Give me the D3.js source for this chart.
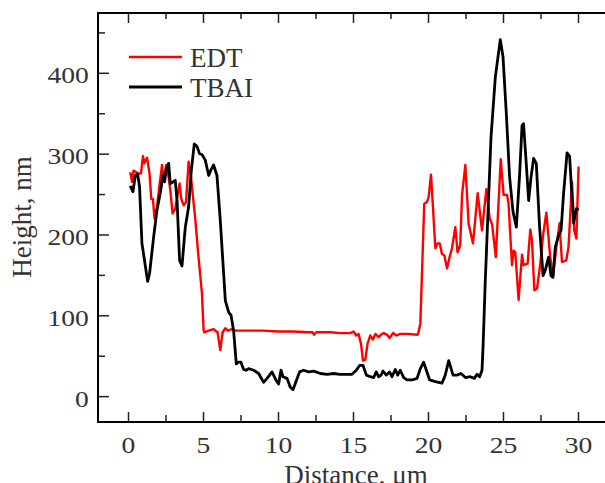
<!DOCTYPE html>
<html>
<head>
<meta charset="utf-8">
<script src="https://cdn.jsdelivr.net/npm/d3@7"></script>
<style>
  body { margin: 0; background: #fff; }
  svg { display: block; }
</style>
</head>
<body>
<svg class="chart"></svg>
<script>
// profile data
const edtDistance = [0.15, 0.27, 0.37, 0.55, 0.71, 0.87, 1.0, 1.09, 1.27, 1.44, 1.55, 1.66, 1.77, 1.93, 2.1, 2.27, 2.37, 2.55, 2.71, 2.82, 2.97, 3.15, 3.31, 3.44, 3.55, 3.71, 3.87, 4.04, 4.2, 4.49, 4.71, 4.93, 5.04, 5.09, 5.38, 5.71, 5.82, 5.97, 6.15, 6.31, 6.49, 6.67, 6.93, 7.15, 8.0, 9.0, 10.0, 11.0, 12.0, 12.3, 12.4, 12.55, 13.5, 14.15, 14.82, 15.04, 15.22, 15.37, 15.53, 15.67, 15.82, 15.97, 16.15, 16.33, 16.49, 16.71, 16.87, 17.04, 17.27, 17.44, 17.67, 17.89, 18.15, 18.6, 19.31, 19.38, 19.49, 19.75, 19.93, 20.04, 20.2, 20.33, 20.49, 20.64, 20.78, 20.93, 21.09, 21.27, 21.44, 21.6, 21.82, 21.97, 22.15, 22.27, 22.49, 22.71, 23.0, 23.31, 23.6, 23.89, 24.11, 24.27, 24.52, 24.85, 25.04, 25.27, 25.37, 25.6, 25.71, 25.82, 26.04, 26.27, 26.37, 26.64, 26.82, 26.93, 27.09, 27.27, 27.49, 27.67, 27.89, 28.15, 28.33, 28.55, 28.77, 28.93, 29.22, 29.37, 29.6, 29.75, 29.89, 30.04];
const edtHeight = [277, 265, 279, 277, 275, 276, 297, 288, 295, 275, 244, 244, 220, 234, 261, 286, 267, 286, 271, 255, 226, 232, 249, 263, 244, 236, 240, 290, 271, 218, 170, 127, 82, 79, 81, 83, 81, 79, 57, 79, 84, 81, 83, 81, 81, 81, 80, 80, 79, 79, 76, 79, 79, 78, 78, 80, 75, 77, 65, 44, 45, 65, 75, 70, 77, 73, 76, 78, 76, 72, 78, 75, 77, 77, 76, 80, 90, 238, 240, 246, 274, 234, 183, 189, 189, 176, 174, 158, 172, 183, 209, 178, 187, 249, 286, 213, 189, 251, 205, 256, 220, 213, 172, 293, 249, 249, 238, 162, 180, 178, 119, 175, 162, 164, 206, 193, 131, 133, 164, 199, 227, 172, 148, 183, 214, 166, 168, 185, 265, 205, 195, 284];

const tbaiDistance = [0.15, 0.33, 0.49, 0.64, 0.77, 0.93, 1.31, 1.44, 1.71, 1.93, 2.15, 2.33, 2.44, 2.55, 2.71, 2.82, 3.0, 3.15, 3.27, 3.44, 3.6, 3.82, 4.04, 4.22, 4.42, 4.6, 4.77, 4.93, 5.15, 5.38, 5.53, 5.71, 5.93, 6.15, 6.49, 6.71, 6.87, 7.04, 7.22, 7.37, 7.53, 7.71, 7.87, 8.04, 8.38, 8.71, 9.04, 9.27, 9.6, 9.89, 10.04, 10.2, 10.33, 10.6, 10.82, 11.0, 11.22, 11.44, 11.71, 12.04, 12.38, 12.82, 13.27, 13.71, 14.11, 14.49, 14.93, 15.22, 15.44, 15.67, 15.89, 16.15, 16.38, 16.55, 16.71, 16.87, 17.0, 17.22, 17.44, 17.6, 17.82, 17.98, 18.15, 18.38, 18.6, 18.93, 19.27, 19.49, 19.71, 19.89, 20.11, 20.49, 20.93, 21.15, 21.38, 21.67, 21.93, 22.2, 22.49, 22.82, 23.09, 23.27, 23.44, 23.6, 23.67, 23.82, 24.04, 24.2, 24.49, 24.82, 25.0, 25.22, 25.44, 25.67, 25.89, 26.11, 26.27, 26.37, 26.55, 26.71, 26.87, 27.04, 27.22, 27.44, 27.67, 27.82, 28.04, 28.2, 28.33, 28.49, 28.71, 28.87, 29.04, 29.27, 29.44, 29.6, 29.71, 29.89, 30.04];
const tbaiHeight = [260, 253, 273, 275, 259, 189, 142, 152, 197, 230, 251, 273, 265, 280, 288, 263, 265, 267, 242, 168, 161, 209, 234, 279, 312, 309, 300, 299, 292, 273, 280, 286, 273, 218, 118, 104, 100, 81, 40, 42, 42, 33, 32, 34, 32, 28, 17, 22, 30, 19, 15, 32, 24, 22, 11, 8, 19, 30, 32, 30, 31, 28, 27, 28, 27, 27, 27, 32, 38, 38, 26, 24, 23, 30, 24, 26, 31, 26, 30, 24, 33, 26, 32, 23, 20, 20, 22, 34, 42, 32, 20, 18, 16, 26, 44, 26, 26, 28, 23, 24, 22, 27, 24, 32, 61, 143, 246, 320, 395, 441, 420, 350, 271, 228, 209, 275, 335, 337, 288, 242, 271, 294, 288, 209, 149, 156, 172, 149, 147, 185, 199, 205, 251, 301, 297, 246, 214, 232, 230];

const xMajor = [0, 5, 10, 15, 20, 25, 30];
const yMajor = [0, 100, 200, 300, 400];
const seriesNames = ["EDT", "TBAI"];
const seriesColors = ["#ff0000", "#000000"];

const width = 605;
const height = 483;
const plotLeft = 98, plotTop = 13, plotRight = 608, plotBottom = 422;
const fontFamily = "'Liberation Serif', 'Times New Roman', serif";
const textColor = "#333";
const lineWidths = [2.4, 2.8];

const svg = d3.select('.chart')
    .attr('width', width)
    .attr('height', height);

const x = d3.scaleLinear().domain([-2, 32]).range([plotLeft, plotRight]);
const y = d3.scaleLinear().domain([-32, 474]).range([plotBottom, plotTop]);

const xMinor = d3.range(0, 32, 2.5).filter(v => !xMajor.includes(v));
const yMinor = d3.range(0, 474, 50).filter(v => !yMajor.includes(v));

// lines
const line = d3.line()
    .x(d => x(d[0]))
    .y(d => y(d[1]));

const edt = edtDistance.map((d, i) => [d, edtHeight[i]]);
const tbai = tbaiDistance.map((d, i) => [d, tbaiHeight[i]]);

[edt, tbai].forEach((series, i) => {
    svg.append("path")
        .datum(series)
        .attr("d", line)
        .attr("fill", "none")
        .attr("stroke", seriesColors[i])
        .attr("stroke-width", lineWidths[i])
        .attr("stroke-linejoin", "round");
});

// axes (ticks point inward)
function styleAxis(g) {
    g.select(".domain").remove();
    g.selectAll(".tick line").attr("stroke", "#222").attr("stroke-width", 1.5);
    g.selectAll("text")
        .attr("fill", textColor)
        .style("font-family", fontFamily)
        .style("font-size", "24px");
}

svg.append("g")
    .attr("transform", `translate(0,${plotBottom})`)
    .call(d3.axisBottom(x).tickValues(xMajor).tickSize(-10).tickPadding(14).tickFormat(d3.format("d")))
    .call(styleAxis)
    .call(g => g.selectAll("text").attr("transform", "scale(1.15,1)"));

svg.append("g")
    .attr("transform", `translate(0,${plotBottom})`)
    .call(d3.axisBottom(x).tickValues(xMinor).tickSize(-7).tickFormat(""))
    .call(styleAxis);

svg.append("g")
    .attr("transform", `translate(0,${plotTop})`)
    .call(d3.axisTop(x).tickValues(xMajor).tickSize(-10).tickFormat(""))
    .call(styleAxis);

svg.append("g")
    .attr("transform", `translate(0,${plotTop})`)
    .call(d3.axisTop(x).tickValues(xMinor).tickSize(-6).tickFormat(""))
    .call(styleAxis);

svg.append("g")
    .attr("transform", `translate(${plotLeft},0)`)
    .call(d3.axisLeft(y).tickValues(yMajor).tickSize(-11).tickPadding(8).tickFormat(d3.format("d")))
    .call(styleAxis)
    .call(g => g.selectAll("text").attr("transform", "scale(1.15,1)").attr("dy", "0.42em"));

svg.append("g")
    .attr("transform", `translate(${plotLeft},0)`)
    .call(d3.axisLeft(y).tickValues(yMinor).tickSize(-7).tickFormat(""))
    .call(styleAxis);

// frame
svg.append("rect")
    .attr("x", plotLeft)
    .attr("y", plotTop)
    .attr("width", plotRight - plotLeft)
    .attr("height", plotBottom - plotTop)
    .attr("fill", "none")
    .attr("stroke", "#000")
    .attr("stroke-width", 2);

// axis titles
svg.append("text")
    .attr("transform", `translate(31,217) rotate(-90)`)
    .attr("text-anchor", "middle")
    .attr("fill", textColor)
    .style("font-family", fontFamily)
    .style("font-size", "27px")
    .text("Height, nm");

svg.append("text")
    .attr("x", 356)
    .attr("y", 484)
    .attr("text-anchor", "middle")
    .attr("fill", textColor)
    .style("font-family", fontFamily)
    .style("font-size", "27px")
    .text("Distance, μm");

// legend
const legend = svg.selectAll(".legend")
    .data(seriesNames)
    .enter().append("g")
    .attr("class", "legend")
    .attr("transform", (d, i) => `translate(0,${57 + i * 30})`);

legend.append("line")
    .attr("x1", 129)
    .attr("x2", 182)
    .attr("stroke", (d, i) => seriesColors[i])
    .attr("stroke-width", (d, i) => lineWidths[i]);

legend.append("text")
    .attr("x", 190)
    .attr("y", 10)
    .attr("fill", textColor)
    .style("font-family", fontFamily)
    .style("font-size", "27px")
    .text(d => d);
</script>
</body>
</html>
